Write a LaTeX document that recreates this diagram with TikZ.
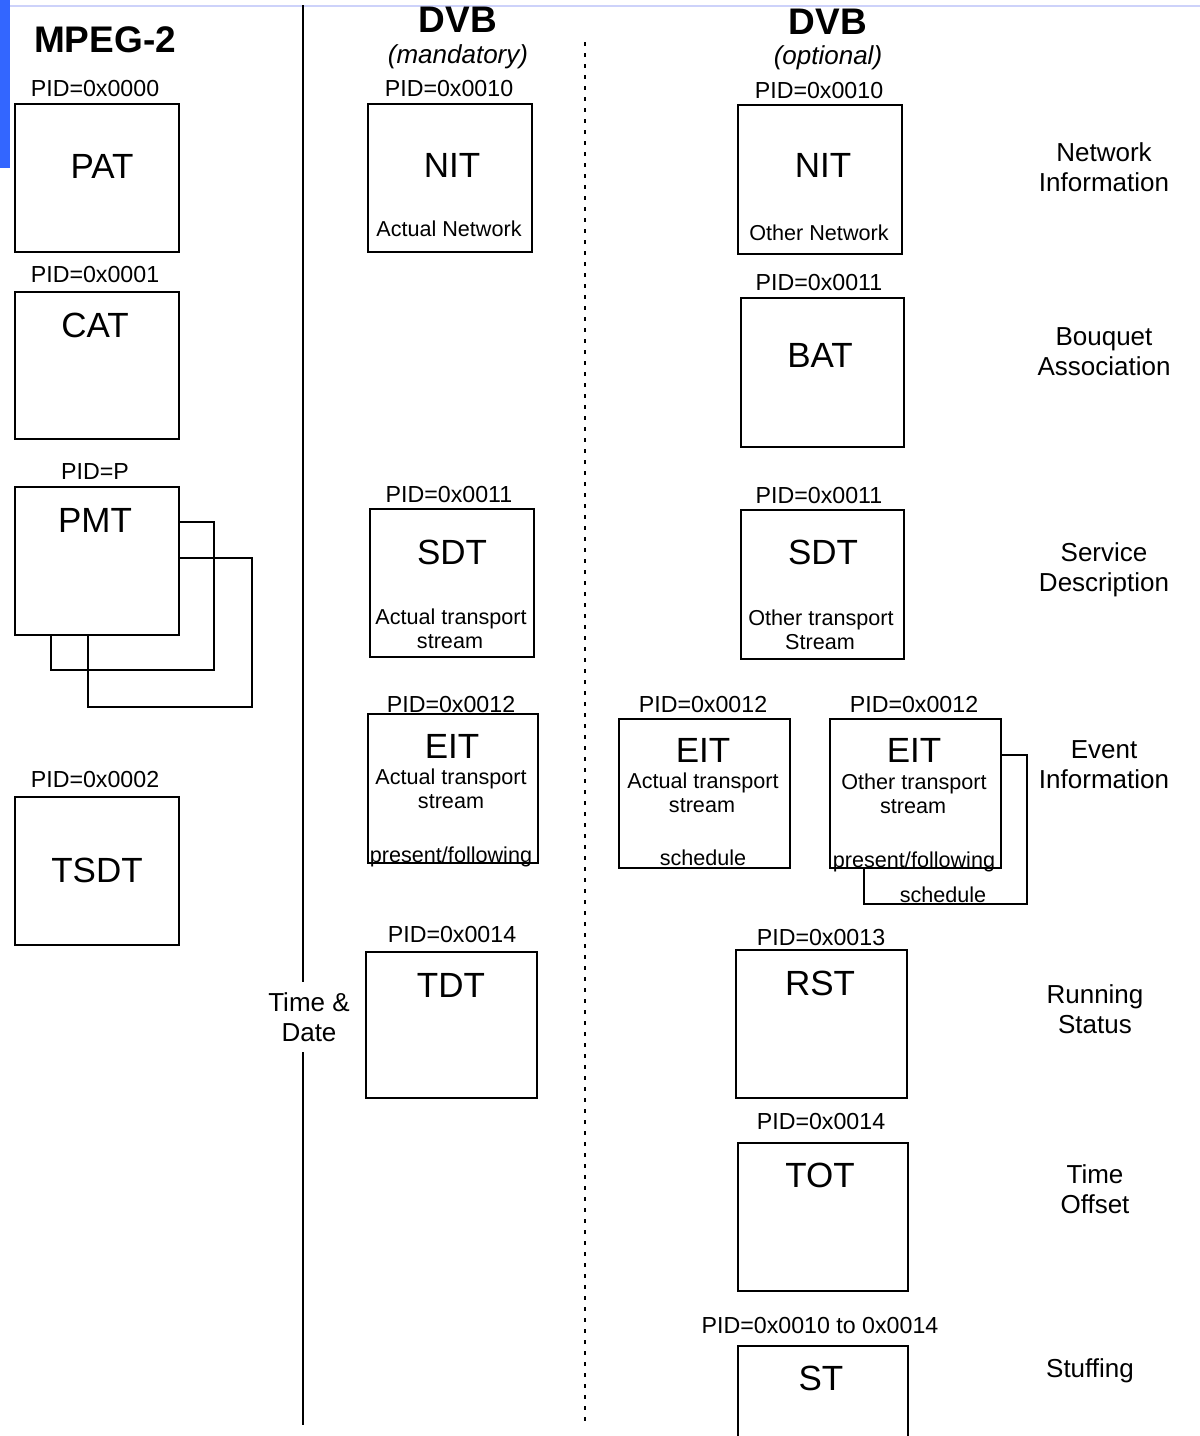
\documentclass[tikz,border=0pt]{standalone}
\usepackage{fontspec}
\setmainfont{Liberation Sans}
\usepackage{xcolor}
\definecolor{barblue}{RGB}{51,102,255}
\definecolor{rimblue}{RGB}{205,210,250}

\begin{document}
\begin{tikzpicture}[x=0.5pt,y=-0.5pt,line width=0.9pt,
  tbl/.style={draw,fill=white,anchor=north west,inner sep=0pt,minimum width=82pt,minimum height=74pt},
  back/.style={draw,anchor=north west,inner sep=0pt,minimum width=82pt,minimum height=74pt},
  pid/.style={anchor=base,inner sep=0pt,font=\fontsize{11.6}{14}\selectfont},
  tname/.style={anchor=base,inner sep=0pt,font=\fontsize{17.5}{21}\selectfont},
  sub/.style={anchor=base,inner sep=0pt,font=\fontsize{10.8}{13}\selectfont},
  side/.style={align=center,inner sep=0pt,font=\fontsize{13}{15}\selectfont},
  head/.style={inner sep=0pt,font=\fontsize{18.5}{22}\selectfont\bfseries},
  note/.style={inner sep=0pt,font=\fontsize{13}{15}\selectfont\itshape}]
  \clip (0,0) rectangle (1200,1436);
  \fill[white] (0,0) rectangle (1200,1436);
  \fill[barblue] (0,0) rectangle (10,168);
  \draw[rimblue] (10,6) -- (1200,6);

  \draw (303,5) -- (303,1425);
  \draw[dash pattern=on 2pt off 3.5pt] (585,42) -- (585,1425);
  \node[side,fill=white,inner ysep=5pt] (td) at (309,1017) {Time \&\\Date};

  % headings
  \node[head] (mpeg) at (105,40) {MPEG-2};
  \node[head] (dvbm) at (458,20) {DVB};
  \node[note] (mand) at (458,57) {(mandatory)};
  \node[head] (dvbo) at (828,22) {DVB};
  \node[note] (opt) at (828,58) {(optional)};

  % MPEG-2 tables
  \node[tbl] (pat) at (14,103) {};
  \node[pid] (patpid) at (95,96) {PID=0x0000};
  \node[tname] (patname) at (102,178) {PAT};

  \node[tbl,minimum height=73.5pt] (cat) at (14,291) {};
  \node[pid] (catpid) at (95,282) {PID=0x0001};
  \node[tname] (catname) at (95,337) {CAT};

  \node[back,minimum height=74.5pt] (pmt3) at (87,557) {};
  \node[back,minimum width=81.5pt] (pmt2) at (50,521) {};
  \node[tbl] (pmt) at (14,486) {};
  \node[pid] (pmtpid) at (95,479) {PID=P};
  \node[tname] (pmtname) at (95,532) {PMT};

  \node[tbl] (tsdt) at (14,796) {};
  \node[pid] (tsdtpid) at (95,787) {PID=0x0002};
  \node[tname] (tsdtname) at (97,882) {TSDT};

  % DVB mandatory
  \node[tbl] (nitm) at (367,103) {};
  \node[pid] (nitmpid) at (449,96) {PID=0x0010};
  \node[tname] (nitmname) at (452,177) {NIT};
  \node[sub] (nitmsub) at (449,236) {Actual Network};

  \node[tbl] (sdtm) at (369,508) {};
  \node[pid] (sdtmpid) at (449,502) {PID=0x0011};
  \node[tname] (sdtmname) at (452,564) {SDT};
  \node[sub] (sdtmsub) at (451,624) {Actual transport};
  \node[sub] (sdtmsubb) at (450,648) {stream};

  \node[tbl,minimum width=85pt,minimum height=74.5pt] (eitm) at (367,713) {};
  \node[pid] (eitmpid) at (451,712) {PID=0x0012};
  \node[tname] (eitmname) at (452,758) {EIT};
  \node[sub] (eitmsub) at (451,784) {Actual transport};
  \node[sub] (eitmsubb) at (451,808) {stream};
  \node[sub] (eitmpf) at (451,862) {present/following};

  \node[tbl,minimum width=85.5pt,minimum height=73pt] (tdt) at (365,951) {};
  \node[pid] (tdtpid) at (452,942) {PID=0x0014};
  \node[tname] (tdtname) at (451,997) {TDT};

  % DVB optional
  \node[tbl,minimum height=74.5pt] (nitr) at (737,104) {};
  \node[pid] (nitrpid) at (819,98) {PID=0x0010};
  \node[tname] (nitrname) at (823,177) {NIT};
  \node[sub] (nitrsub) at (819,240) {Other Network};

  \node[tbl,minimum width=81.5pt,minimum height=74.5pt] (bat) at (740,297) {};
  \node[pid] (batpid) at (819,290) {PID=0x0011};
  \node[tname] (batname) at (820,367) {BAT};

  \node[tbl,minimum width=81.5pt,minimum height=74.5pt] (sdtr) at (740,509) {};
  \node[pid] (sdtrpid) at (819,503) {PID=0x0011};
  \node[tname] (sdtrname) at (823,564) {SDT};
  \node[sub] (sdtrsub) at (821,625) {Other transport};
  \node[sub] (sdtrsubb) at (820,649) {Stream};

  \node[tbl,minimum width=85.5pt,minimum height=74.5pt] (eita) at (618,718) {};
  \node[pid] (eitapid) at (703,712) {PID=0x0012};
  \node[tname] (eitaname) at (703,762) {EIT};
  \node[sub] (eitasub) at (703,788) {Actual transport};
  \node[sub] (eitasubb) at (702,812) {stream};
  \node[sub] (eitasch) at (703,865) {schedule};

  \node[back,minimum width=81.5pt,minimum height=74.5pt] (eito2) at (863,754) {};
  \node[tbl,minimum width=85.5pt,minimum height=74.5pt] (eito) at (829,718) {};
  \node[pid] (eitopid) at (914,712) {PID=0x0012};
  \node[tname] (eitoname) at (914,762) {EIT};
  \node[sub] (eitosub) at (914,789) {Other transport};
  \node[sub] (eitosubb) at (913,813) {stream};
  \node[sub] (eitopf) at (914,867) {present/following};
  \node[sub] (eitosch) at (943,902) {schedule};

  \node[tbl,minimum width=85.5pt] (rst) at (735,949) {};
  \node[pid] (rstpid) at (821,945) {PID=0x0013};
  \node[tname] (rstname) at (820,995) {RST};

  \node[tbl,minimum width=85pt] (tot) at (737,1142) {};
  \node[pid] (totpid) at (821,1129) {PID=0x0014};
  \node[tname] (totname) at (820,1187) {TOT};

  \node[tbl,minimum width=85pt] (st) at (737,1345) {};
  \node[pid] (stpid) at (820,1333) {PID=0x0010 to 0x0014};
  \node[tname] (stname) at (821,1390) {ST};

  % row labels
  \node[side] (lnet) at (1104,167) {Network\\Information};
  \node[side] (lbou) at (1104,352) {Bouquet\\Association};
  \node[side] (lser) at (1104,570) {Service\\Description};
  \node[side] (levt) at (1104,765) {Event\\Information};
  \node[side] (lrun) at (1095,1009) {Running\\Status};
  \node[side] (loff) at (1095,1189) {Time\\Offset};
  \node[side] (lstf) at (1090,1371) {Stuffing};
\end{tikzpicture}
\end{document}
